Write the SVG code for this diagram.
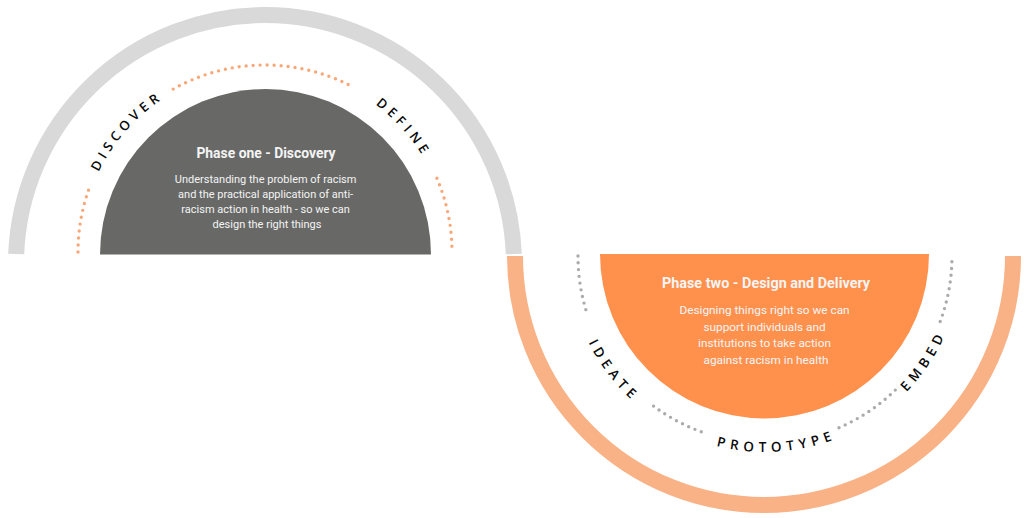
<svg xmlns="http://www.w3.org/2000/svg" width="1024" height="518" viewBox="0 0 1024 518">
  <style>
    .title { font-family: Roboto, "Open Sans", "Liberation Sans", sans-serif; font-weight: bold; fill: #F4F4F4; text-anchor: middle; }
    .body { font-family: Roboto, "Open Sans", "Liberation Sans", sans-serif; fill: #F4F4F4; text-anchor: middle; }
    .arc-label { font-family: "Open Sans", "Liberation Sans", sans-serif; font-weight: 600; fill: #0A0A0A; text-anchor: middle; }
    .dots-orange { fill: none; stroke: #F8A878; stroke-width: 3.4; stroke-linecap: round; stroke-dasharray: 0 7; }
    .dots-gray { fill: none; stroke: #ABABAB; stroke-width: 3.4; stroke-linecap: round; stroke-dasharray: 0 6.8; }
  </style>
  <defs>
    <path id="topArc" d="M 80 253 A 185 185 0 0 1 450 253"/>
    <path id="bottomArc" d="M 568 255 A 197 197 0 0 0 962 255"/>
  </defs>
  <rect width="1024" height="518" fill="#FFFFFF"/>

  <g id="phase-one">
    <path id="ring-one" d="M 16.2 254 A 249 249 0 0 1 513.8 254" fill="none" stroke="#D9D9D9" stroke-width="16"/>
    <path id="core-one" d="M 100 254.5 A 165.5 165.5 0 0 1 431 254.5 Z" fill="#686967"/>
    <text class="title" x="266" y="158" font-size="13.9">Phase one - Discovery</text>
    <text class="body" font-size="11">
      <tspan x="267" y="182.5">Understanding the problem of racism</tspan>
      <tspan x="267" y="197.5">and the practical application of anti-</tspan>
      <tspan x="267" y="212.5">racism action in health - so we can</tspan>
      <tspan x="267" y="227.5">design the right things</tspan>
    </text>
  </g>

  <g id="phase-two">
    <path id="ring-two" d="M 515 256 A 249 249 0 0 0 1013 256" fill="none" stroke="#F9B286" stroke-width="16"/>
    <path id="core-two" d="M 600 254 A 164.5 164.5 0 0 0 929 254 Z" fill="#FF914D"/>
    <text class="title" x="766" y="288" font-size="14.4">Phase two - Design and Delivery</text>
    <text class="body" font-size="11.8">
      <tspan x="766" y="314">Designing things right so we can</tspan>
      <tspan x="766" y="330.5">support individuals and</tspan>
      <tspan x="766" y="347">institutions to take action</tspan>
      <tspan x="766" y="363.5">against racism in health</tspan>
    </text>
  </g>

  <g id="connectors">
    <path class="dots-orange" d="M 78 252 A 187 187 0 0 1 89.5 187.4"/>
    <path class="dots-orange" d="M 173.2 89.1 A 187 187 0 0 1 349.3 85.1"/>
    <path class="dots-orange" d="M 436.9 178.3 A 187 187 0 0 1 452 252"/>
    <path class="dots-gray" d="M 578 256 A 187 187 0 0 0 586.6 312.2"/>
    <path class="dots-gray" d="M 653.5 406.1 A 187 187 0 0 0 704.1 432.8"/>
    <path class="dots-gray" d="M 839 427.7 A 187 187 0 0 0 897.2 388.2"/>
    <path class="dots-gray" d="M 940.2 321.5 A 187 187 0 0 0 952 256"/>
  </g>

  <g id="label-discover">
    <text class="arc-label" font-size="13.2" letter-spacing="4.5"><textPath href="#topArc" startOffset="23%">DISCOVER</textPath></text>
  </g>
  <g id="label-define">
    <text class="arc-label" font-size="13.2" letter-spacing="4.5"><textPath href="#topArc" startOffset="76.6%">DEFINE</textPath></text>
  </g>
  <g id="label-ideate">
    <text class="arc-label" font-size="13.5" letter-spacing="5.1"><textPath href="#bottomArc" startOffset="20.8%">IDEATE</textPath></text>
  </g>
  <g id="label-prototype">
    <text class="arc-label" font-size="13.5" letter-spacing="5.1"><textPath href="#bottomArc" startOffset="52%">PROTOTYPE</textPath></text>
  </g>
  <g id="label-embed">
    <text class="arc-label" font-size="13.5" letter-spacing="5.1"><textPath href="#bottomArc" startOffset="81.3%">EMBED</textPath></text>
  </g>
</svg>
